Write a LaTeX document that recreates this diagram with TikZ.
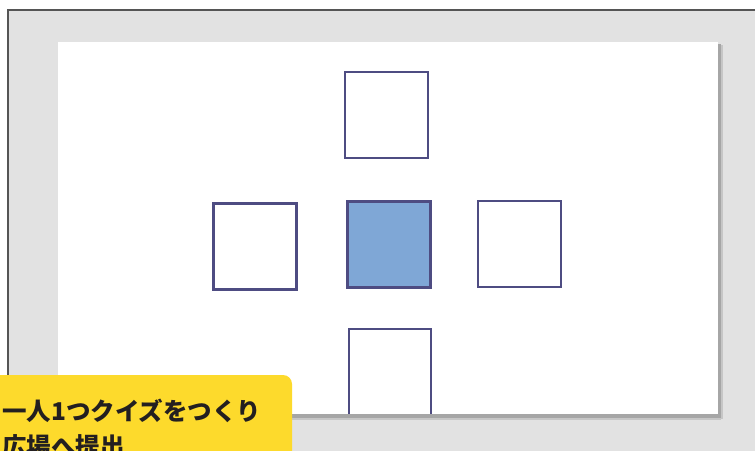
\documentclass[tikz,border=0pt]{standalone}
\usepackage{fontspec}
\newfontfamily\jp{Noto Sans CJK JP}
\definecolor{bggray}{HTML}{E2E2E2}
\definecolor{edgegray}{HTML}{555555}
\definecolor{boxline}{HTML}{4E4C82}
\definecolor{boxfill}{HTML}{7FA7D6}
\definecolor{labelyellow}{HTML}{FDDA2C}
\definecolor{labeltext}{HTML}{231F20}
\tikzset{
  sq/.style={draw=boxline, line width=2.8pt, fill=white, minimum width=83pt, minimum height=86pt, inner sep=0pt, outer sep=0pt},
  sqfill/.style={sq, fill=boxfill},
  lbl/.style={anchor=base west, inner sep=0pt, text=labeltext, font=\jp\bfseries\fontsize{24.5}{35}\selectfont}
}
\begin{document}
\begin{tikzpicture}[x=1pt,y=1pt]
\useasboundingbox (0,0) rectangle (755,-450);
\clip (0,0) rectangle (755,-450);
% background frame
\fill[white] (0,0) rectangle (755,-450);
\fill[bggray] (8,-10) rectangle (760,-455);
\draw[edgegray, line width=1.4pt] (8,-460) -- (8,-10) -- (760,-10);
% panel shadow
\fill[gray!45] (61,-45) rectangle (723,-420);
\fill[gray!70] (60,-44) rectangle (721,-418);
\fill[white] (58,-42) rectangle (718,-415);
% squares
\node[sq] (top) at (386.5,-115) {};
\node[sq] (left) at (255,-246.5) {};
\node[sqfill] (center) at (389,-244.5) {};
\node[sq] (right) at (519.5,-244) {};
\node[sq, minimum width=82pt] (bottom) at (390,-372) {};
% panel bottom edge over bottom square
\fill[gray!70] (58,-414) rectangle (721,-418);
\fill[bggray] (0,-418.5) rectangle (755,-455);
\fill[gray!45] (58,-418) rectangle (721,-420);
% yellow label
\fill[labelyellow, rounded corners=9pt] (-20,-460) -- (-20,-375) -- (292,-375) -- (292,-460) -- cycle;
\node[lbl] (line1) at (2,-420) {一人1つクイズをつくり};
\node[lbl] (line2) at (2,-455) {広場へ提出};
\end{tikzpicture}
\end{document}
